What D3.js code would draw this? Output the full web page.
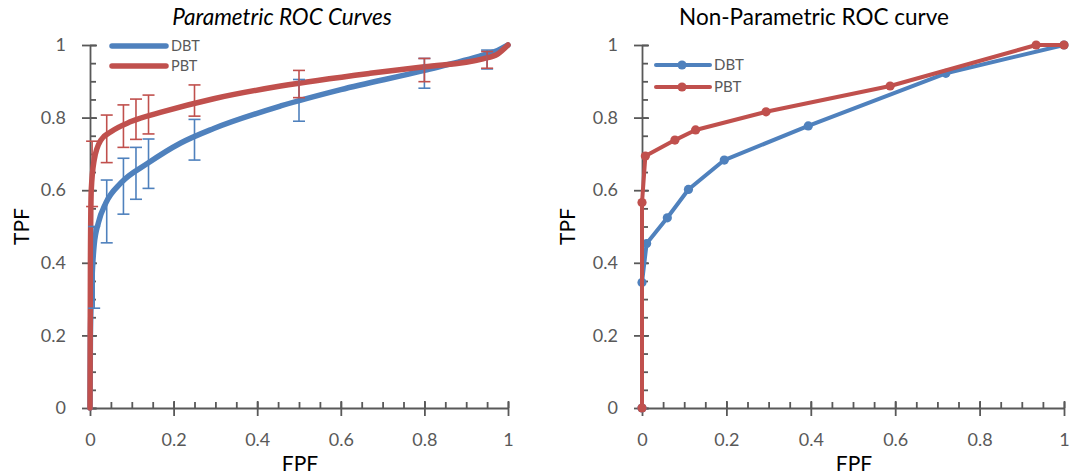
<!DOCTYPE html>
<html>
<head>
<meta charset="utf-8">
<script src="https://cdn.jsdelivr.net/npm/d3@7/dist/d3.min.js"></script>
<style>
  html, body { margin: 0; padding: 0; background: #fff; }
  svg { display: block; }
  text { font-family: Lato, "Open Sans", sans-serif; }
</style>
</head>
<body>
<svg id="chart" width="1073" height="476"></svg>
<script>
// ---- Parametric (fitted) ROC curves ----
const dbtCurveFpf = [0, 0.001, 0.004, 0.01, 0.02, 0.038, 0.074, 0.138, 0.217, 0.296, 0.456, 0.6, 0.8, 0.94, 0.975, 1];
const dbtCurveTpf = [0, 0.2, 0.33, 0.45, 0.51, 0.565, 0.62, 0.674, 0.73, 0.77, 0.832, 0.877, 0.93, 0.972, 0.985, 1];
const pbtCurveFpf = [0, 0.001, 0.003, 0.01, 0.026, 0.05, 0.098, 0.177, 0.296, 0.456, 0.67, 0.8, 0.94, 0.975, 1];
const pbtCurveTpf = [0, 0.4, 0.6, 0.683, 0.738, 0.761, 0.789, 0.817, 0.852, 0.887, 0.922, 0.94, 0.962, 0.975, 1];

// confidence intervals on the fitted curves
const dbtErrFpf  = [0.01, 0.04, 0.08, 0.11, 0.14, 0.25, 0.5, 0.8, 0.95];
const dbtErrLow  = [0.275, 0.455, 0.534, 0.575, 0.605, 0.683, 0.79, 0.881, 0.934];
const dbtErrHigh = [0.5, 0.628, 0.688, 0.718, 0.741, 0.795, 0.905, 0.963, 0.986];
const pbtErrFpf  = [0.005, 0.04, 0.08, 0.11, 0.14, 0.25, 0.5, 0.8, 0.95];
const pbtErrLow  = [0.555, 0.676, 0.718, 0.74, 0.755, 0.804, 0.855, 0.899, 0.936];
const pbtErrHigh = [0.735, 0.807, 0.835, 0.851, 0.862, 0.89, 0.93, 0.963, 0.982];

// ---- Non-parametric (empirical) ROC points ----
const dbtPointFpf = [0, 0, 0.011, 0.06, 0.11, 0.195, 0.394, 0.72, 1];
const dbtPointTpf = [0, 0.346, 0.453, 0.524, 0.602, 0.683, 0.777, 0.922, 1];
const pbtPointFpf = [0, 0, 0.008, 0.078, 0.127, 0.294, 0.588, 0.934, 1];
const pbtPointTpf = [0, 0.566, 0.694, 0.738, 0.766, 0.816, 0.887, 1, 1];

const seriesNames = ["DBT", "PBT"];
const tickValues = [0, 0.2, 0.4, 0.6, 0.8, 1];
const minorTickValues = d3.range(0, 1.0001, 0.05);

const BLUE = "#4f81bd", RED = "#c0504d", AXIS = "#595959";

const svg = d3.select("#chart");
const zip = (xs, ys) => xs.map((x, i) => [x, ys[i]]);

function drawPanel(opt) {
  const x = d3.scaleLinear().domain([0, 1]).range([opt.x0, opt.x1]);
  const y = d3.scaleLinear().domain([0, 1]).range([opt.y0, opt.y1]);
  const g = svg.append("g");

  // minor ticks (inside)
  g.append("g").attr("transform", `translate(0,${opt.y0})`)
    .call(d3.axisBottom(x).tickValues(minorTickValues).tickSize(-6).tickSizeOuter(0).tickFormat(""))
    .call(s => s.select(".domain").remove());
  g.append("g").attr("transform", `translate(${opt.x0},0)`)
    .call(d3.axisLeft(y).tickValues(minorTickValues).tickSize(-6).tickSizeOuter(0).tickFormat(""))
    .call(s => s.select(".domain").remove());

  // major ticks and labels
  const xa = g.append("g").attr("transform", `translate(0,${opt.y0})`)
    .call(d3.axisBottom(x).tickValues(tickValues).tickSize(8).tickSizeOuter(0).tickPadding(17).tickFormat(d3.format("")));
  const ya = g.append("g").attr("transform", `translate(${opt.x0},0)`)
    .call(d3.axisLeft(y).tickValues(tickValues).tickSize(8).tickSizeOuter(0).tickPadding(16).tickFormat(d3.format("")));
  // major ticks cross the axis line
  xa.selectAll(".tick line").attr("y1", -7);
  ya.selectAll(".tick line").attr("x1", 7);

  g.selectAll(".tick line, .domain").attr("stroke", AXIS).attr("stroke-width", 1.8);
  g.selectAll(".tick text").attr("fill", AXIS).style("font-size", "18px");

  // titles
  svg.append("text").attr("x", opt.titleX).attr("y", 25).attr("text-anchor", "middle")
    .style("font-size", "22.5px").style("font-style", opt.italic ? "italic" : "normal")
    .attr("fill", "#000").text(opt.title);
  svg.append("text").attr("x", (opt.x0 + opt.x1) / 2 + 1).attr("y", 471).attr("text-anchor", "middle")
    .style("font-size", "21px").attr("fill", "#000").text("FPF");
  svg.append("text").attr("transform", `translate(${opt.tpfX},${(opt.y0 + opt.y1) / 2}) rotate(-90)`)
    .attr("text-anchor", "middle").attr("dy", "0.35em")
    .style("font-size", "21px").attr("fill", "#000").text("TPF");

  return { x, y, g };
}

// ---------- left panel ----------
const L = drawPanel({ x0: 90, x1: 508, y0: 408, y1: 45, title: "Parametric ROC Curves", titleX: 282, italic: true, tpfX: 22 });
const smooth = d3.line().x(d => L.x(d[0])).y(d => L.y(d[1])).curve(d3.curveMonotoneX);
const leftSeries = [
  { name: seriesNames[0], color: BLUE, pts: zip(dbtCurveFpf, dbtCurveTpf), ex: dbtErrFpf, lo: dbtErrLow, hi: dbtErrHigh },
  { name: seriesNames[1], color: RED,  pts: zip(pbtCurveFpf, pbtCurveTpf), ex: pbtErrFpf, lo: pbtErrLow, hi: pbtErrHigh }
];
leftSeries.forEach(s => {
  L.g.append("path").datum(s.pts).attr("d", smooth).attr("fill", "none")
    .attr("stroke", s.color).attr("stroke-width", 5.5).attr("stroke-linejoin", "round").attr("stroke-linecap", "round");
});
leftSeries.forEach(s => {
  const bars = L.g.append("g").attr("stroke", s.color).attr("stroke-width", 1.6);
  s.ex.forEach((fx, i) => {
    const cx = L.x(fx);
    bars.append("line").attr("x1", cx).attr("x2", cx).attr("y1", L.y(s.lo[i])).attr("y2", L.y(s.hi[i]));
    [s.lo[i], s.hi[i]].forEach(v => {
      bars.append("line").attr("x1", cx - 6).attr("x2", cx + 6).attr("y1", L.y(v)).attr("y2", L.y(v));
    });
  });
});
// left legend
leftSeries.forEach((s, i) => {
  const ly = 46 + i * 20;
  svg.append("line").attr("x1", 112).attr("x2", 166).attr("y1", ly).attr("y2", ly)
    .attr("stroke", s.color).attr("stroke-width", 5.5).attr("stroke-linecap", "round");
  svg.append("text").attr("x", 171).attr("y", ly).attr("dy", "0.36em")
    .style("font-size", "14.5px").attr("fill", AXIS).text(s.name);
});

// ---------- right panel ----------
const R = drawPanel({ x0: 642, x1: 1064, y0: 408, y1: 45, title: "Non-Parametric ROC curve", titleX: 814, italic: false, tpfX: 568 });
const straight = d3.line().x(d => R.x(d[0])).y(d => R.y(d[1]));
const rightSeries = [
  { name: seriesNames[0], color: BLUE, pts: zip(dbtPointFpf, dbtPointTpf) },
  { name: seriesNames[1], color: RED,  pts: zip(pbtPointFpf, pbtPointTpf) }
];
rightSeries.forEach(s => {
  R.g.append("path").datum(s.pts).attr("d", straight).attr("fill", "none")
    .attr("stroke", s.color).attr("stroke-width", 4).attr("stroke-linejoin", "round");
  R.g.append("g").selectAll("circle").data(s.pts).join("circle")
    .attr("cx", d => R.x(d[0])).attr("cy", d => R.y(d[1])).attr("r", 4.6).attr("fill", s.color);
});
// right legend
rightSeries.forEach((s, i) => {
  const ly = 65 + i * 22;
  svg.append("line").attr("x1", 656).attr("x2", 710).attr("y1", ly).attr("y2", ly)
    .attr("stroke", s.color).attr("stroke-width", 4).attr("stroke-linecap", "round");
  svg.append("circle").attr("cx", 682).attr("cy", ly).attr("r", 4.6).attr("fill", s.color);
  svg.append("text").attr("x", 714).attr("y", ly).attr("dy", "0.36em")
    .style("font-size", "15px").attr("fill", AXIS).text(s.name);
});
</script>
</body>
</html>
